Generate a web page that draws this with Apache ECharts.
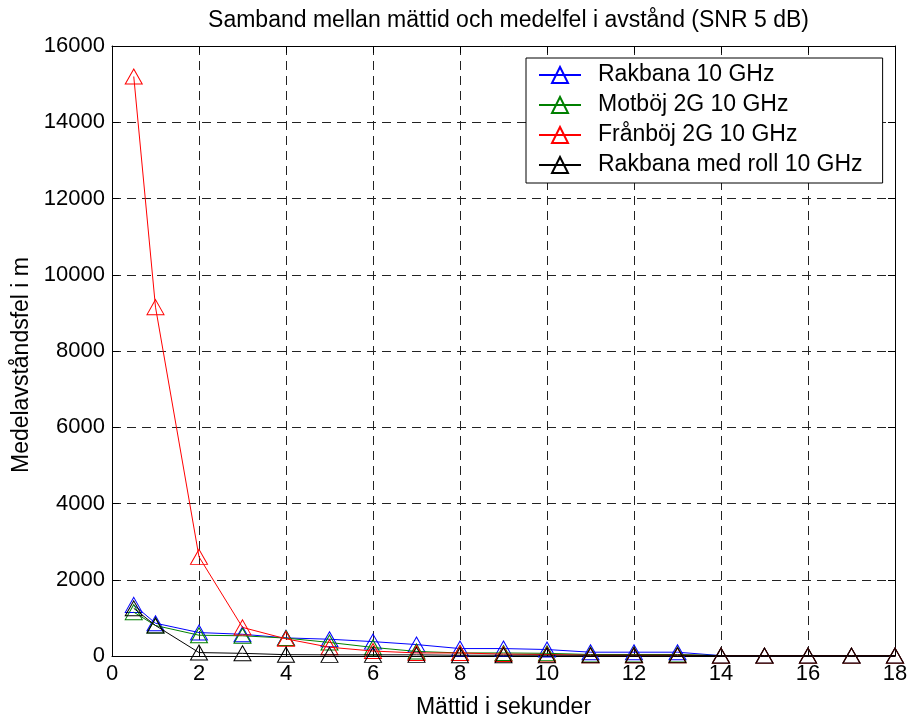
<!DOCTYPE html>
<html>
<head>
<meta charset="utf-8">
<script src="https://cdn.jsdelivr.net/npm/echarts@6/dist/echarts.min.js"></script>
<style>html,body{margin:0;padding:0;background:#fff}#c{width:911px;height:724px}</style>
</head>
<body>
<div id="c"></div>
<script>
const xValues = [0.5, 1, 2, 3, 4, 5, 6, 7, 8, 9, 10, 11, 12, 13, 14, 15, 16, 17, 18];
const rakbana = [1340, 860, 615, 570, 475, 440, 377, 300, 195, 195, 170, 100, 100, 100, 10, 10, 10, 10, 10];
const motboj = [1150, 800, 545, 530, 470, 355, 225, 120, 80, 80, 70, 40, 40, 40, 10, 10, 10, 10, 10];
const franboj = [15200, 9150, 2600, 750, 450, 230, 130, 80, 80, 50, 40, 20, 20, 20, 10, 10, 10, 10, 10];
const rakbanaRoll = [1250, 800, 90, 70, 35, 30, 30, 30, 20, 20, 20, 20, 20, 20, 10, 10, 10, 10, 10];
const seriesNames = ['Rakbana 10 GHz', 'Motböj 2G 10 GHz', 'Frånböj 2G 10 GHz', 'Rakbana med roll 10 GHz'];
const seriesColors = ['#0000ff', '#008000', '#ff0000', '#000000'];
const titleText = 'Samband mellan mättid och medelfel i avstånd (SNR 5 dB)';
const xName = 'Mättid i sekunder';
const yName = 'Medelavståndsfel i m';

const FONT = 'Liberation Sans, Arial, sans-serif';
const allData = [rakbana, motboj, franboj, rakbanaRoll];

const chart = echarts.init(document.getElementById('c'), null, {renderer: 'canvas'});
const gridColor = '#222';
const baseAxis = {
  type: 'value',
  axisLine: {show: true, onZero: false, lineStyle: {color: '#000', width: 1}},
  axisTick: {show: true, inside: true, length: 7, lineStyle: {color: '#000'}},
  splitLine: {show: false},
};
const option = {
  animation: false,
  backgroundColor: '#fff',
  title: {
    text: titleText, left: 503.5, top: 4, textAlign: 'center',
    textStyle: {fontFamily: FONT, fontSize: 23, fontWeight: 'normal', color: '#000'}
  },
  grid: {left: 112, right: 16, top: 46, bottom: 62, containLabel: false},
  legend: {
    orient: 'vertical', left: 526, top: 58,
    padding: [5, 20, 6, 12],
    itemWidth: 42, itemHeight: 20, itemGap: 6,
    backgroundColor: '#fff', borderColor: '#000', borderWidth: 1,
    textStyle: {fontFamily: FONT, fontSize: 23, color: '#000', lineHeight: 24, padding: [0, 0, 0, 12]},
    data: seriesNames
  },
  xAxis: [
    Object.assign({}, baseAxis, {
      position: 'bottom', min: 0, max: 18, interval: 2,
      name: xName, nameLocation: 'middle', nameGap: 40,
      nameTextStyle: {fontFamily: FONT, fontSize: 23, color: '#000'},
      axisLabel: {fontFamily: FONT, fontSize: 22, color: '#000', margin: 7, formatter: v => String(v)},
      splitLine: {show: true, lineStyle: {color: gridColor, type: [9, 6], width: 1}}
    }),
    Object.assign({}, baseAxis, {
      position: 'top', min: 0, max: 18, interval: 2,
      axisLabel: {show: false}
    })
  ],
  yAxis: [
    Object.assign({}, baseAxis, {
      position: 'left', min: 0, max: 16000, interval: 2000,
      name: yName, nameLocation: 'middle', nameGap: 77,
      nameTextStyle: {fontFamily: FONT, fontSize: 23, color: '#000', padding: [0, 28, 0, 0]},
      axisLabel: {fontFamily: FONT, fontSize: 22, color: '#000', margin: 7, formatter: v => String(v)},
      splitLine: {show: true, lineStyle: {color: gridColor, type: [9, 6], width: 1}}
    }),
    Object.assign({}, baseAxis, {
      position: 'right', min: 0, max: 16000, interval: 2000,
      axisLabel: {show: false}
    })
  ],
  series: seriesNames.map((name, i) => ({
    name: name,
    type: 'line',
    xAxisIndex: 0, yAxisIndex: 0,
    data: xValues.map((x, j) => [x, allData[i][j]]),
    symbol: 'triangle',
    symbolSize: [17, 15],
    showSymbol: true,
    lineStyle: {color: seriesColors[i], width: 1},
    itemStyle: {color: 'rgba(0,0,0,0)', borderColor: seriesColors[i], borderWidth: 1},
    emphasis: {disabled: true},
    z: 2 + i
  }))
};
chart.setOption(option);
</script>
</body>
</html>
